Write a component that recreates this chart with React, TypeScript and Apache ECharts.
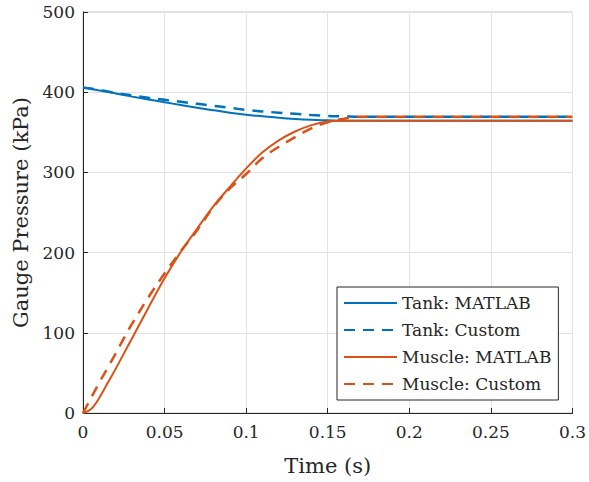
import React, { useEffect, useRef } from "react";
import * as echarts from "echarts";

const times = [0, 0.005, 0.01, 0.015, 0.02, 0.025, 0.03, 0.04, 0.05, 0.06, 0.07, 0.08, 0.09, 0.1, 0.11, 0.12, 0.13, 0.14, 0.15, 0.16, 0.17, 0.18, 0.2, 0.25, 0.3];

const tankMatlab = [406, 404, 402, 400.5, 398.5, 396.5, 394.5, 391, 387.5, 384, 380.5, 377.5, 374.5, 372, 370, 368, 366.5, 365.5, 365, 364.5, 364.5, 364.5, 364.5, 364.5, 364.5];
const tankCustom = [406, 404.5, 402.5, 401, 399, 397.5, 396, 393, 390.5, 388, 385.5, 383, 380.5, 378, 376, 374.5, 373, 371.5, 370.5, 370, 369.5, 369.5, 369.5, 369.5, 369.5];
const muscleMatlab = [0, 5, 19, 37, 55, 74, 93, 131, 168, 201, 230, 258, 282, 305, 325, 340, 351, 359, 363.5, 364.5, 364.5, 364.5, 364.5, 364.5, 364.5];
const muscleCustom = [0, 19, 38, 56, 74, 93, 111, 144, 174, 202, 228, 257, 280, 298, 318, 332, 344, 355, 362.5, 367, 369.5, 369.5, 369.5, 369.5, 369.5];

const seriesNames = ["Tank: MATLAB", "Tank: Custom", "Muscle: MATLAB", "Muscle: Custom"];
const xTickLabels = ["0", "0.05", "0.1", "0.15", "0.2", "0.25", "0.3"];
const yTickLabels = ["0", "100", "200", "300", "400", "500"];

const BLUE = "#0072BD";
const ORANGE = "#D95319";
const TEXT = "#262626";
const FONT = "DejaVu Serif";

const pairs = (vals: number[]) => times.map((t, i) => [t, vals[i]]);

export default function App() {
  const ref = useRef<HTMLDivElement>(null);
  useEffect(() => {
    if (!ref.current) return;
    const chart = echarts.init(ref.current, undefined, { renderer: "svg" });
    const mk = (name: string, vals: number[], color: string, dashed: boolean) => ({
      name,
      type: "line",
      data: pairs(vals),
      showSymbol: false,
      symbol: "none",
      smooth: 0.35,
      lineStyle: { color, width: dashed ? 2.5 : 2, type: dashed ? [11, 8] : "solid" },
      itemStyle: { color },
    });
    chart.setOption({
      animation: false,
      backgroundColor: "#ffffff",
      textStyle: { fontFamily: FONT },
      grid: { left: 83, right: 14, top: 12, bottom: 69, show: true, borderColor: "#c4c4c4", borderWidth: 1, backgroundColor: "transparent" },
      legend: {
        orient: "vertical",
        left: 337,
        top: 287,
        itemWidth: 53,
        itemHeight: 14,
        itemGap: 7,
        padding: [6, 7, 6, 6],
        backgroundColor: "#ffffff",
        borderColor: TEXT,
        borderWidth: 1,
        borderRadius: 0,
        itemStyle: { opacity: 0 },
        textStyle: { fontFamily: FONT, fontSize: 17, color: TEXT, lineHeight: 20 },
        data: seriesNames,
      },
      xAxis: {
        type: "value",
        min: 0,
        max: 0.3,
        interval: 0.05,
        name: "Time (s)",
        nameLocation: "middle",
        nameGap: 42,
        nameTextStyle: { fontFamily: FONT, fontSize: 21, color: TEXT },
        axisLine: { show: true, onZero: false, lineStyle: { color: TEXT, width: 1 } },
        axisTick: { show: true, inside: true, length: 5, lineStyle: { color: TEXT } },
        axisLabel: {
          fontFamily: FONT,
          fontSize: 17,
          color: TEXT,
          margin: 10,
          formatter: (v: number) => xTickLabels[Math.round(v / 0.05)] ?? "",
        },
        splitLine: { show: true, lineStyle: { color: "#e3e3e3", width: 1 } },
      },
      yAxis: {
        type: "value",
        min: 0,
        max: 500,
        interval: 100,
        name: "Gauge Pressure (kPa)",
        nameLocation: "middle",
        nameGap: 50,
        nameTextStyle: { fontFamily: FONT, fontSize: 21, color: TEXT },
        axisLine: { show: true, onZero: false, lineStyle: { color: TEXT, width: 1 } },
        axisTick: { show: true, inside: true, length: 5, lineStyle: { color: TEXT } },
        axisLabel: {
          fontFamily: FONT,
          fontSize: 17,
          color: TEXT,
          margin: 8,
          formatter: (v: number) => yTickLabels[Math.round(v / 100)] ?? "",
        },
        splitLine: { show: true, lineStyle: { color: "#e3e3e3", width: 1 } },
      },
      series: [
        mk(seriesNames[0], tankMatlab, BLUE, false),
        mk(seriesNames[1], tankCustom, BLUE, true),
        mk(seriesNames[2], muscleMatlab, ORANGE, false),
        mk(seriesNames[3], muscleCustom, ORANGE, true),
      ],
    });
    return () => chart.dispose();
  }, []);
  return <div ref={ref} style={{ position: "absolute", left: 0, top: 0, width: 589, height: 482 }} />;
}
